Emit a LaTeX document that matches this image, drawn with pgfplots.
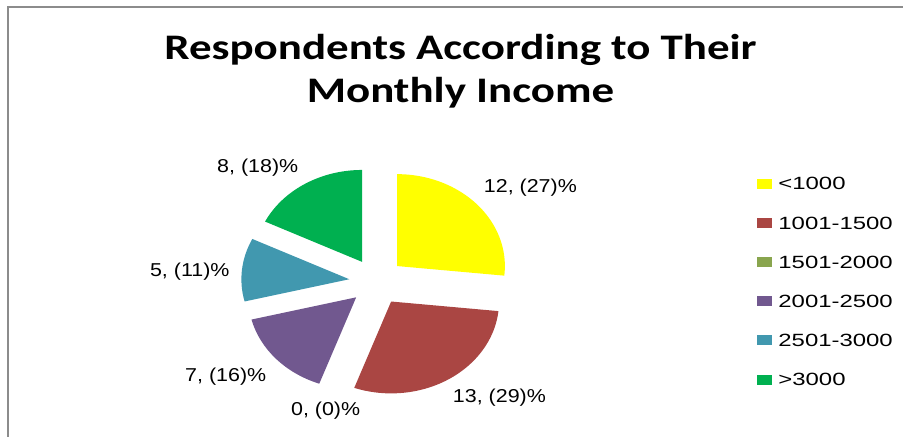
\documentclass[border=0pt]{standalone}
\usepackage{pgfplots}
\pgfplotsset{compat=1.18}
\usepackage{pgfplotstable}
\usepackage{fontspec}
\setmainfont{Liberation Sans}
\newfontfamily\titlefont[FakeStretch=1.25]{Carlito}
\newfontfamily\labelfont[FakeStretch=1.15]{Liberation Sans}
\newfontfamily\legfont[FakeStretch=1.35]{Liberation Sans}

\definecolor{c1}{HTML}{FFFF00}
\definecolor{c2}{HTML}{AA4643}
\definecolor{c3}{HTML}{89A54E}
\definecolor{c4}{HTML}{71588F}
\definecolor{c5}{HTML}{4198AF}
\definecolor{c6}{HTML}{00B050}

% income group, respondents, percent, label position (px from top-left), colour
\pgfplotstableread{
group      n   pct  lx   ly   col
<1000      12  27   531  188  c1
1001-1500  13  29   500  398  c2
1501-2000  0   0    326  411  c3
2001-2500  7   16   226  377  c4
2501-3000  5   11   190  272  c5
>3000      8   18   258  168  c6
}\incometable

\tikzset{
  lbl/.style={font=\labelfont\fontsize{14pt}{16pt}\selectfont, text=black},
  leg/.style={font=\legfont\fontsize{13.3pt}{15pt}\selectfont, text=black, anchor=west, inner sep=0pt},
}

\pgfplotstablegetrowsof{\incometable}
\pgfmathtruncatemacro\lastrow{\pgfplotsretval-1}
\def\total{0}
\foreach \i in {0,...,\lastrow}{%
  \pgfplotstablegetelem{\i}{n}\of\incometable
  \pgfmathsetmacro\t{\total+\pgfplotsretval}%
  \xdef\total{\t}%
}

\begin{document}
\begin{tikzpicture}
\begin{axis}[
    x=0.75pt, y=0.75pt,
    xmin=0, xmax=904, ymin=0, ymax=437,
    hide axis, clip=false,
]
\path (axis cs:0,0) rectangle (axis cs:904,437);
% chart frame
\draw[gray!90, line width=1.5pt] (axis cs:8,0) -- (axis cs:8,430) -- (axis cs:904,430);

% title
\node[anchor=base, font=\titlefont\bfseries\fontsize{27pt}{32pt}\selectfont]
  at (axis cs:461,377) {Respondents According to Their};
\node[anchor=base, font=\titlefont\bfseries\fontsize{27pt}{32pt}\selectfont]
  at (axis cs:461,334) {Monthly Income};

% pie slices, clockwise from 12 o'clock, each pulled out from the centre
\xdef\curang{90}
\foreach \i in {0,...,\lastrow}{%
  \pgfplotstablegetelem{\i}{n}\of\incometable \edef\val{\pgfplotsretval}%
  \pgfplotstablegetelem{\i}{pct}\of\incometable \edef\pct{\pgfplotsretval}%
  \pgfplotstablegetelem{\i}{col}\of\incometable \edef\col{\pgfplotsretval}%
  \pgfplotstablegetelem{\i}{lx}\of\incometable \edef\lx{\pgfplotsretval}%
  \pgfplotstablegetelem{\i}{ly}\of\incometable \edef\ly{\pgfplotsretval}%
  \pgfplotstablegetelem{\i}{group}\of\incometable \edef\grp{\pgfplotsretval}%
  \pgfmathsetmacro\sweep{360*\val/\total}%
  \pgfmathsetmacro\angB{\curang-\sweep}%
  \pgfmathsetmacro\mid{(\curang+\angB)/2}%
  \pgfmathsetmacro\cx{377+27.5*cos(\mid)}%
  \pgfmathsetmacro\cy{155+23.4*sin(\mid)}%
  \ifdim\val pt>0pt
    \edef\temp{\noexpand\fill[\col] (axis cs:\cx,\cy) -- ++(\curang:81pt and 69pt)
      arc[start angle=\curang, end angle=\angB, x radius=81pt, y radius=69pt] -- cycle;}%
    \temp
  \fi
  \pgfmathsetmacro\lyy{437-\ly}%
  \edef\temp{\noexpand\node[lbl] at (axis cs:\lx,\lyy) {\val, (\pct)\noexpand\%};}%
  \temp
  % legend entry
  \pgfmathsetmacro\legy{437-(184+39.2*\i)}%
  \pgfmathsetmacro\legya{\legy-5}%
  \pgfmathsetmacro\legyb{\legy+5}%
  \edef\temp{\noexpand\fill[\col] (axis cs:758,\legya) rectangle (axis cs:773,\legyb);
    \noexpand\node[leg] at (axis cs:779,\legy) {\grp};}%
  \temp
  \xdef\curang{\angB}%
}
\end{axis}
\end{tikzpicture}
\end{document}
